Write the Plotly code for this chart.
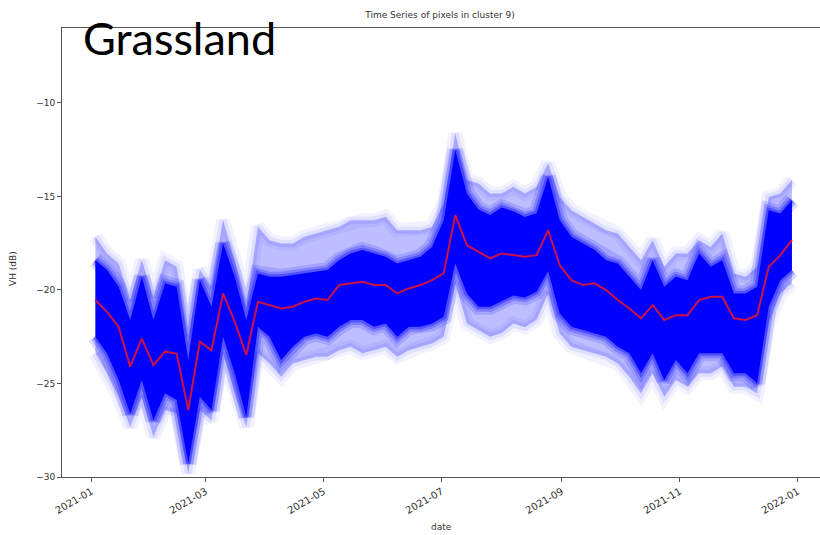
import plotly.graph_objects as go

dates = [
    "2021-01-03", "2021-01-09", "2021-01-15", "2021-01-21", "2021-01-27",
    "2021-02-02", "2021-02-08", "2021-02-14", "2021-02-20", "2021-02-26",
    "2021-03-04", "2021-03-10", "2021-03-16", "2021-03-22", "2021-03-28",
    "2021-04-03", "2021-04-09", "2021-04-15", "2021-04-21", "2021-04-27",
    "2021-05-03", "2021-05-09", "2021-05-15", "2021-05-21", "2021-05-27",
    "2021-06-02", "2021-06-08", "2021-06-14", "2021-06-20", "2021-06-26",
    "2021-07-02", "2021-07-08", "2021-07-14", "2021-07-20", "2021-07-26",
    "2021-08-01", "2021-08-07", "2021-08-13", "2021-08-19", "2021-08-25",
    "2021-08-31", "2021-09-06", "2021-09-12", "2021-09-18", "2021-09-24",
    "2021-09-30", "2021-10-06", "2021-10-12", "2021-10-18", "2021-10-24",
    "2021-10-30", "2021-11-05", "2021-11-11", "2021-11-17", "2021-11-23",
    "2021-11-29", "2021-12-05", "2021-12-11", "2021-12-17", "2021-12-23",
    "2021-12-29",
]

mean_vh = [
    -20.54, -21.17, -21.97, -24.10, -22.60, -24.02, -23.30, -23.40, -26.42, -22.77,
    -23.22, -20.19, -21.70, -23.48, -20.63, -20.81, -20.99, -20.90, -20.63, -20.46,
    -20.54, -19.74, -19.65, -19.57, -19.74, -19.74, -20.19, -19.92, -19.74, -19.48,
    -19.12, -16.00, -17.61, -17.96, -18.32, -18.05, -18.14, -18.23, -18.14, -16.81,
    -18.68, -19.48, -19.74, -19.65, -20.01, -20.54, -20.99, -21.52, -20.81, -21.61,
    -21.35, -21.35, -20.54, -20.37, -20.37, -21.52, -21.61, -21.35, -18.76, -18.14,
    -17.34,
]

core_hi = [
    -18.41, -18.94, -19.83, -21.61, -19.30, -21.61, -19.65, -19.83, -23.75, -19.48,
    -20.90, -17.52, -19.30, -21.61, -19.12, -19.30, -19.30, -19.21, -19.12, -19.03,
    -18.94, -18.41, -18.05, -17.87, -18.05, -18.23, -18.59, -18.41, -18.23, -17.70,
    -16.27, -12.53, -14.85, -15.70, -16.00, -15.60, -15.80, -16.10, -15.90, -13.96,
    -16.27, -17.16, -17.52, -17.87, -18.41, -18.59, -19.30, -20.01, -18.41, -19.83,
    -19.30, -19.48, -18.05, -18.76, -18.41, -20.19, -20.19, -19.83, -15.74, -15.92,
    -15.20,
]

core_lo = [
    -22.50, -23.39, -24.82, -26.60, -24.82, -26.96, -25.53, -25.89, -29.27, -25.71,
    -26.42, -22.50, -24.46, -26.78, -21.97, -22.50, -23.75, -23.04, -22.50, -22.33,
    -22.50, -21.97, -21.61, -21.61, -21.97, -21.79, -22.50, -21.97, -21.97, -21.79,
    -21.44, -18.59, -20.19, -20.90, -20.90, -20.60, -20.30, -20.40, -20.10, -19.00,
    -21.26, -21.97, -22.15, -22.33, -22.50, -23.04, -23.39, -24.46, -23.39, -24.82,
    -23.75, -24.46, -23.39, -23.39, -23.39, -24.46, -24.46, -24.98, -20.90, -19.48,
    -18.94,
]

outer_hi = [
    -17.16, -18.05, -18.59, -20.54, -18.41, -20.37, -18.41, -18.76, -22.50, -18.94,
    -19.83, -16.27, -18.41, -20.90, -16.63, -17.34, -17.52, -17.52, -17.16, -16.98,
    -16.81, -16.63, -16.27, -16.27, -16.27, -16.09, -16.81, -16.81, -16.81, -16.63,
    -15.38, -11.64, -14.13, -14.31, -14.85, -14.85, -14.49, -14.85, -14.49, -13.24,
    -15.03, -15.74, -16.09, -16.45, -16.81, -16.98, -17.70, -18.41, -17.34, -18.76,
    -18.05, -18.05, -17.34, -17.70, -16.98, -19.12, -19.30, -18.76, -15.03, -14.85,
    -14.13,
]

outer_lo = [
    -23.39, -24.46, -25.71, -27.31, -25.71, -27.85, -26.42, -26.60, -29.80, -26.42,
    -26.96, -23.39, -25.53, -27.31, -23.39, -23.93, -24.64, -23.93, -23.75, -23.57,
    -23.57, -23.22, -23.04, -23.39, -23.22, -23.04, -23.57, -23.22, -23.04, -22.86,
    -22.50, -19.65, -21.79, -22.15, -22.50, -22.30, -21.80, -22.00, -21.60, -20.20,
    -22.33, -23.04, -23.22, -23.39, -23.57, -23.93, -24.64, -25.53, -24.46, -25.71,
    -24.82, -25.18, -24.46, -24.46, -24.10, -25.18, -25.18, -25.53, -21.79, -20.19,
    -19.65,
]

x_tick_vals = ["2021-01-01", "2021-03-01", "2021-05-01", "2021-07-01",
               "2021-09-01", "2021-11-01", "2022-01-01"]
x_tick_text = ["2021-01", "2021-03", "2021-05", "2021-07",
               "2021-09", "2021-11", "2022-01"]
y_tick_vals = [-30, -25, -20, -15, -10]

BLUE = "#0000ff"

fig = go.Figure()

# faint haze beyond the outer envelope
for w, a in [(14, 0.05), (7, 0.08)]:
    for arr in (outer_hi, outer_lo):
        fig.add_trace(go.Scatter(x=dates, y=arr, mode="lines",
                                 line=dict(width=w, color=f"rgba(0,0,255,{a})"),
                                 hoverinfo="skip", showlegend=False))
# faint outer envelope
fig.add_trace(go.Scatter(x=dates, y=outer_lo, mode="lines", line=dict(width=0),
                         hoverinfo="skip", showlegend=False))
fig.add_trace(go.Scatter(x=dates, y=outer_hi, mode="lines", line=dict(width=0),
                         fill="tonexty", fillcolor="rgba(0,0,255,0.26)",
                         hoverinfo="skip", showlegend=False))
# soft edges around the dense core
for w, a in [(16, 0.14), (10, 0.22), (5, 0.35)]:
    for arr in (core_hi, core_lo):
        fig.add_trace(go.Scatter(x=dates, y=arr, mode="lines",
                                 line=dict(width=w, color=f"rgba(0,0,255,{a})"),
                                 hoverinfo="skip", showlegend=False))
# dense core
fig.add_trace(go.Scatter(x=dates, y=core_lo, mode="lines", line=dict(width=0),
                         hoverinfo="skip", showlegend=False))
fig.add_trace(go.Scatter(x=dates, y=core_hi, mode="lines", line=dict(width=0),
                         fill="tonexty", fillcolor=BLUE,
                         hoverinfo="skip", showlegend=False))
# mean line
fig.add_trace(go.Scatter(x=dates, y=mean_vh, mode="lines",
                         line=dict(width=2, color="#cc1246"),
                         showlegend=False))

axis_color = "#555555"
text_color = "#333333"
y_tick_font = dict(family="DejaVu Sans", size=9, color=text_color)
x_tick_font = dict(family="DejaVu Sans", size=10, color=text_color)

fig.update_layout(
    width=820, height=535,
    margin=dict(l=62, r=0, t=28, b=58),
    paper_bgcolor="white", plot_bgcolor="white",
    title=dict(text="Time Series of pixels in cluster 9)",
               x=440 / 820, xanchor="center", xref="container",
               y=1 - 15 / 535, yanchor="middle", yref="container",
               font=dict(family="DejaVu Sans", size=9, color=text_color)),
    xaxis=dict(type="date", automargin=False,
               range=["2020-12-16 18:00", "2022-01-12 12:00"],
               tickvals=x_tick_vals, ticktext=x_tick_text, tickangle=-30,
               ticks="outside", ticklen=4, tickcolor=axis_color,
               showline=True, linecolor=axis_color, linewidth=1, mirror=True,
               showgrid=False, zeroline=False, tickfont=x_tick_font),
    yaxis=dict(range=[-30, -6], tickvals=y_tick_vals, automargin=False,
               ticks="outside", ticklen=4, tickcolor=axis_color,
               showline=True, linecolor=axis_color, linewidth=1,
               showgrid=False, zeroline=False, tickfont=y_tick_font),
    annotations=[
        dict(text="Grassland", xref="paper", yref="paper",
             x=(81 - 62) / 758, y=(477 - 38) / 449,
             xanchor="left", yanchor="middle", showarrow=False,
             font=dict(family="Lato", size=45, color="black")),
        dict(text="VH (dB)", xref="paper", yref="paper",
             x=(13 - 62) / 758, y=(477 - 269) / 449, textangle=-90,
             xanchor="center", yanchor="middle", showarrow=False,
             font=dict(family="DejaVu Sans", size=9, color=text_color)),
        dict(text="date", xref="paper", yref="paper",
             x=(441 - 62) / 758, y=(477 - 527) / 449,
             xanchor="center", yanchor="middle", showarrow=False,
             font=dict(family="DejaVu Sans", size=9, color=text_color)),
    ],
)

fig.write_html("out.html", config={"displayModeBar": False},
               post_script="document.body.style.margin='0px';")
